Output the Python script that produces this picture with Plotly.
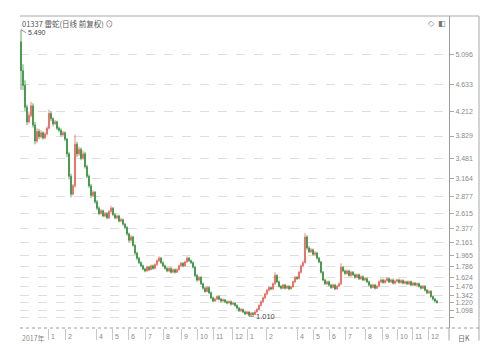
import plotly.graph_objects as go

# ---- data (one candle per ~2 trading days) ----
open_ = [
    5.30, 4.85, 4.62, 4.28, 4.05, 4.15, 4.30, 4.00, 3.75, 3.90,
    3.82, 3.88, 3.80, 3.86, 3.95, 4.18, 4.10, 4.02, 4.05, 3.95,
    3.92, 3.85, 3.88, 3.78, 3.55, 3.20, 2.92, 3.05, 3.70, 3.55,
    3.62, 3.48, 3.55, 3.35, 3.20, 3.05, 2.90, 2.95, 2.80, 2.70,
    2.62, 2.66, 2.58, 2.62, 2.55, 2.65, 2.70, 2.60, 2.55, 2.58,
    2.50, 2.52, 2.45, 2.40, 2.30, 2.20, 2.25, 2.12, 2.00, 1.92,
    1.85, 1.80, 1.75, 1.72, 1.78, 1.74, 1.80, 1.76, 1.82, 1.88,
    1.92, 1.85, 1.80, 1.76, 1.72, 1.76, 1.70, 1.74, 1.70, 1.74,
    1.80, 1.84, 1.80, 1.86, 1.92, 1.88, 1.85, 1.78, 1.65, 1.58,
    1.62, 1.52, 1.45, 1.40, 1.46, 1.38, 1.30, 1.25, 1.28, 1.32,
    1.28, 1.25, 1.27, 1.24, 1.22, 1.24, 1.20, 1.22, 1.18, 1.14,
    1.10, 1.12, 1.08, 1.05, 1.08, 1.03, 1.06, 1.04, 1.08, 1.12,
    1.18, 1.24, 1.30, 1.36, 1.42, 1.46, 1.44, 1.52, 1.65, 1.55,
    1.48, 1.45, 1.50, 1.45, 1.48, 1.44, 1.47, 1.55, 1.62, 1.60,
    1.70, 1.80, 1.85, 2.25, 2.08, 2.02, 2.05, 1.98, 2.00, 1.92,
    1.86, 1.70, 1.58, 1.52, 1.55, 1.50, 1.46, 1.50, 1.44, 1.48,
    1.52, 1.78, 1.72, 1.68, 1.72, 1.65, 1.70, 1.66, 1.62, 1.66,
    1.60, 1.63, 1.58, 1.60, 1.55, 1.50, 1.46, 1.50, 1.45, 1.48,
    1.55, 1.58, 1.54, 1.57, 1.60, 1.55, 1.58, 1.53, 1.56, 1.58,
    1.54, 1.57, 1.53, 1.55, 1.52, 1.55, 1.50, 1.53, 1.50, 1.52,
    1.48, 1.45, 1.48, 1.42, 1.38, 1.40, 1.32, 1.28, 1.25,
]
high = [
    5.49, 4.95, 4.70, 4.32, 4.20, 4.36, 4.34, 4.05, 3.95, 3.94,
    3.92, 3.90, 3.89, 3.98, 4.24, 4.22, 4.12, 4.08, 4.07, 3.98,
    3.95, 3.91, 3.90, 3.80, 3.58, 3.24, 3.08, 3.85, 3.74, 3.66,
    3.65, 3.60, 3.58, 3.38, 3.23, 3.08, 2.98, 2.97, 2.83, 2.73,
    2.69, 2.68, 2.64, 2.64, 2.67, 2.74, 2.72, 2.62, 2.60, 2.60,
    2.55, 2.54, 2.47, 2.42, 2.32, 2.28, 2.27, 2.14, 2.02, 1.94,
    1.87, 1.82, 1.77, 1.80, 1.80, 1.82, 1.82, 1.84, 1.90, 1.95,
    1.94, 1.87, 1.82, 1.78, 1.78, 1.78, 1.76, 1.76, 1.76, 1.82,
    1.86, 1.86, 1.88, 1.95, 1.94, 1.90, 1.87, 1.80, 1.67, 1.64,
    1.64, 1.54, 1.47, 1.48, 1.48, 1.40, 1.32, 1.30, 1.34, 1.34,
    1.30, 1.29, 1.28, 1.26, 1.26, 1.26, 1.24, 1.23, 1.20, 1.16,
    1.14, 1.13, 1.10, 1.10, 1.09, 1.08, 1.08, 1.10, 1.14, 1.20,
    1.26, 1.32, 1.38, 1.44, 1.49, 1.48, 1.54, 1.70, 1.67, 1.57,
    1.50, 1.52, 1.52, 1.50, 1.50, 1.49, 1.57, 1.64, 1.64, 1.72,
    1.82, 1.88, 2.31, 2.28, 2.11, 2.08, 2.07, 2.03, 2.02, 1.94,
    1.88, 1.72, 1.60, 1.57, 1.57, 1.52, 1.52, 1.52, 1.50, 1.54,
    1.84, 1.80, 1.74, 1.74, 1.74, 1.72, 1.72, 1.68, 1.68, 1.68,
    1.65, 1.65, 1.62, 1.62, 1.57, 1.52, 1.52, 1.52, 1.50, 1.57,
    1.60, 1.60, 1.59, 1.62, 1.62, 1.60, 1.60, 1.58, 1.60, 1.60,
    1.59, 1.59, 1.57, 1.57, 1.57, 1.57, 1.55, 1.55, 1.54, 1.54,
    1.50, 1.50, 1.50, 1.44, 1.42, 1.42, 1.34, 1.30, 1.27,
]
low = [
    4.55, 4.55, 4.22, 4.00, 4.02, 4.12, 3.96, 3.70, 3.72, 3.78,
    3.79, 3.77, 3.78, 3.84, 3.93, 4.06, 3.98, 4.00, 3.92, 3.89,
    3.82, 3.83, 3.75, 3.50, 3.15, 2.87, 2.90, 3.02, 3.50, 3.52,
    3.45, 3.46, 3.32, 3.17, 3.02, 2.86, 2.88, 2.77, 2.67, 2.59,
    2.60, 2.56, 2.56, 2.53, 2.53, 2.63, 2.58, 2.53, 2.53, 2.48,
    2.48, 2.43, 2.37, 2.27, 2.17, 2.18, 2.10, 1.97, 1.89, 1.83,
    1.78, 1.73, 1.70, 1.71, 1.72, 1.73, 1.74, 1.75, 1.80, 1.86,
    1.83, 1.78, 1.74, 1.70, 1.70, 1.68, 1.69, 1.68, 1.69, 1.73,
    1.78, 1.78, 1.79, 1.85, 1.86, 1.83, 1.76, 1.62, 1.55, 1.56,
    1.50, 1.43, 1.38, 1.39, 1.36, 1.28, 1.23, 1.24, 1.27, 1.26,
    1.23, 1.24, 1.22, 1.20, 1.21, 1.18, 1.19, 1.16, 1.12, 1.08,
    1.08, 1.06, 1.03, 1.04, 1.01, 1.02, 1.02, 1.03, 1.07, 1.11,
    1.17, 1.22, 1.28, 1.34, 1.40, 1.42, 1.42, 1.50, 1.53, 1.46,
    1.43, 1.44, 1.43, 1.44, 1.42, 1.43, 1.46, 1.53, 1.58, 1.59,
    1.68, 1.78, 1.84, 2.05, 2.00, 2.00, 1.96, 1.96, 1.90, 1.84,
    1.68, 1.56, 1.50, 1.50, 1.48, 1.44, 1.45, 1.42, 1.43, 1.47,
    1.50, 1.70, 1.66, 1.66, 1.63, 1.63, 1.64, 1.60, 1.61, 1.58,
    1.58, 1.56, 1.56, 1.53, 1.48, 1.44, 1.45, 1.43, 1.44, 1.47,
    1.53, 1.52, 1.52, 1.55, 1.53, 1.53, 1.51, 1.51, 1.54, 1.52,
    1.52, 1.51, 1.51, 1.50, 1.50, 1.48, 1.48, 1.48, 1.48, 1.46,
    1.43, 1.44, 1.40, 1.36, 1.36, 1.30, 1.26, 1.23, 1.21,
]
close = [
    4.85, 4.62, 4.28, 4.05, 4.15, 4.30, 4.00, 3.75, 3.90, 3.82,
    3.88, 3.80, 3.86, 3.95, 4.18, 4.10, 4.02, 4.05, 3.95, 3.92,
    3.85, 3.88, 3.78, 3.55, 3.20, 2.92, 3.05, 3.70, 3.55, 3.62,
    3.48, 3.55, 3.35, 3.20, 3.05, 2.90, 2.95, 2.80, 2.70, 2.62,
    2.66, 2.58, 2.62, 2.55, 2.65, 2.70, 2.60, 2.55, 2.58, 2.50,
    2.52, 2.45, 2.40, 2.30, 2.20, 2.25, 2.12, 2.00, 1.92, 1.85,
    1.80, 1.75, 1.72, 1.78, 1.74, 1.80, 1.76, 1.82, 1.88, 1.92,
    1.85, 1.80, 1.76, 1.72, 1.76, 1.70, 1.74, 1.70, 1.74, 1.80,
    1.84, 1.80, 1.86, 1.92, 1.88, 1.85, 1.78, 1.65, 1.58, 1.62,
    1.52, 1.45, 1.40, 1.46, 1.38, 1.30, 1.25, 1.28, 1.32, 1.28,
    1.25, 1.27, 1.24, 1.22, 1.24, 1.20, 1.22, 1.18, 1.14, 1.10,
    1.12, 1.08, 1.05, 1.08, 1.03, 1.06, 1.04, 1.08, 1.12, 1.18,
    1.24, 1.30, 1.36, 1.42, 1.46, 1.44, 1.52, 1.65, 1.55, 1.48,
    1.45, 1.50, 1.45, 1.48, 1.44, 1.47, 1.55, 1.62, 1.60, 1.70,
    1.80, 1.85, 2.25, 2.08, 2.02, 2.05, 1.98, 2.00, 1.92, 1.86,
    1.70, 1.58, 1.52, 1.55, 1.50, 1.46, 1.50, 1.44, 1.48, 1.52,
    1.78, 1.72, 1.68, 1.72, 1.65, 1.70, 1.66, 1.62, 1.66, 1.60,
    1.63, 1.58, 1.60, 1.55, 1.50, 1.46, 1.50, 1.45, 1.48, 1.55,
    1.58, 1.54, 1.57, 1.60, 1.55, 1.58, 1.53, 1.56, 1.58, 1.54,
    1.57, 1.53, 1.55, 1.52, 1.55, 1.50, 1.53, 1.50, 1.52, 1.48,
    1.45, 1.48, 1.42, 1.38, 1.40, 1.32, 1.28, 1.25, 1.23,
]

y_tickvals = [0.988, 1.098, 1.220, 1.342, 1.476, 1.624, 1.786, 1.965, 2.161,
              2.377, 2.615, 2.877, 3.164, 3.481, 3.829, 4.212, 4.633, 5.096]
y_ticktext = ["", "1.098", "1.220", "1.342", "1.476", "1.624", "1.786", "1.965",
              "2.161", "2.377", "2.615", "2.877", "3.164", "3.481", "3.829",
              "4.212", "4.633", "5.096"]

month_pos = [13.5, 22, 37.5, 45.5, 53.5, 62, 71, 80, 88, 96, 105.5,
             113, 122.5, 138, 146, 154, 162, 172, 180.5, 188, 195.5, 203.5]
month_lab = ["1", "2", "4", "5", "6", "7", "8", "9", "10", "11", "12",
             "1", "2", "4", "5", "6", "7", "8", "9", "10", "11", "12"]
year_label = "2017年"
title_text = "01337 雷蛇(日线 前复权) ⊙"

x = list(range(len(close)))

RED = "#ea6358"
GREEN = "#35913f"
GRAY = "#8a8a8a"
FONT = "Liberation Sans, Arial, sans-serif"
CJK = "Noto Sans CJK SC, sans-serif"

fig = go.Figure()
fig.add_trace(go.Candlestick(
    x=x, open=open_, high=high, low=low, close=close,
    increasing=dict(line=dict(color=RED, width=0.8), fillcolor=RED),
    decreasing=dict(line=dict(color=GREEN, width=0.8), fillcolor=GREEN),
    whiskerwidth=0, showlegend=False, hoverinfo="skip",
))

L, R, T, B = 20, 51, 16, 22
plot_w = 500 - L - R
xr = [-0.5, -0.5 + plot_w / 2.0]
x_out = (479 - L) / plot_w  # outer frame right edge in paper units

fig.update_layout(
    width=500, height=350,
    margin=dict(l=L, r=R, t=T, b=B, pad=0),
    paper_bgcolor="white", plot_bgcolor="white",
    showlegend=False,
    font=dict(family=FONT, size=7, color=GRAY),
    xaxis=dict(
        range=xr, rangeslider=dict(visible=False),
        showgrid=False, zeroline=False, showline=False,
        tickmode="array", tickvals=month_pos, ticktext=[""] * len(month_pos),
        ticks="outside", ticklen=11, tickwidth=1, tickcolor="#c8c8c8",
        showticklabels=False,
    ),
    yaxis=dict(
        side="right", range=[0.829, 5.704],
        tickmode="array", tickvals=y_tickvals, ticktext=y_ticktext,
        ticks="outside", ticklen=4, tickcolor="#aaaaaa", tickwidth=1,
        tickfont=dict(family=FONT, size=7, color=GRAY),
        showline=True, linecolor="#9a9a9a", linewidth=1,
        showgrid=True, gridcolor="#dedede", griddash="dash", gridwidth=1,
        zeroline=False,
    ),
)

# month labels (left-aligned, just right of the tick line)
for p, lab in zip(month_pos, month_lab):
    fig.add_annotation(x=p, y=0, xref="x", yref="paper", text=lab,
                       showarrow=False, xanchor="left", yanchor="top",
                       xshift=1, yshift=-3,
                       font=dict(family=FONT, size=7, color=GRAY))
fig.add_annotation(x=0, y=0, xref="paper", yref="paper", text=year_label,
                   showarrow=False, xanchor="left", yanchor="top",
                   xshift=0, yshift=-3, font=dict(family=CJK, size=7, color=GRAY))

# title and icons
fig.add_annotation(x=0, y=1, xref="paper", yref="paper", text=title_text,
                   showarrow=False, xanchor="left", yanchor="top", yshift=0,
                   font=dict(family=CJK, size=7.5, color="#555555"))
fig.add_annotation(x=(431 - L) / plot_w, y=1, xref="paper", yref="paper", text="◇",
                   showarrow=False, xanchor="center", yanchor="top", yshift=-1,
                   font=dict(family="DejaVu Sans", size=8, color="#888888"))
fig.add_annotation(x=(442 - L) / plot_w, y=1, xref="paper", yref="paper", text="◧",
                   showarrow=False, xanchor="center", yanchor="top", yshift=-1,
                   font=dict(family="DejaVu Sans", size=8, color="#777777"))
fig.add_annotation(x=(464 - L) / plot_w, y=0, xref="paper", yref="paper", text="日K",
                   showarrow=False, xanchor="center", yanchor="top", yshift=-3,
                   font=dict(family=CJK, size=7, color="#666666"))

# max / min markers
i_max = high.index(max(high))
i_min = low.index(min(low))
fig.add_annotation(x=i_max, y=max(high), text=f"{max(high):.3f}", showarrow=True,
                   arrowhead=0, arrowwidth=0.8, arrowcolor="#777777", ax=5, ay=3,
                   xanchor="left", yanchor="middle",
                   font=dict(family=FONT, size=7, color="#444444"))
fig.add_annotation(x=i_min, y=min(low), text=f"{min(low):.3f}", showarrow=True,
                   arrowhead=0, arrowwidth=0.8, arrowcolor="#777777", ax=5, ay=0,
                   xanchor="left", font=dict(family=FONT, size=7.5, color="#444444"))

# frame lines
line_c = "#a8a8a8"
fig.add_shape(type="line", xref="paper", yref="paper", x0=0, x1=x_out, y0=1, y1=1,
              line=dict(color=line_c, width=1))
fig.add_shape(type="line", xref="paper", yref="paper", x0=x_out, x1=x_out, y0=1, y1=-0.04,
              line=dict(color=line_c, width=1))
fig.add_shape(type="line", xref="paper", yref="paper", x0=1, x1=1, y0=0, y1=-0.04,
              line=dict(color=line_c, width=1))
fig.add_shape(type="line", xref="paper", yref="paper", x0=0, x1=x_out, y0=0, y1=0,
              line=dict(color="#9a9a9a", width=1, dash="dot"))

fig.write_html("out.html")
